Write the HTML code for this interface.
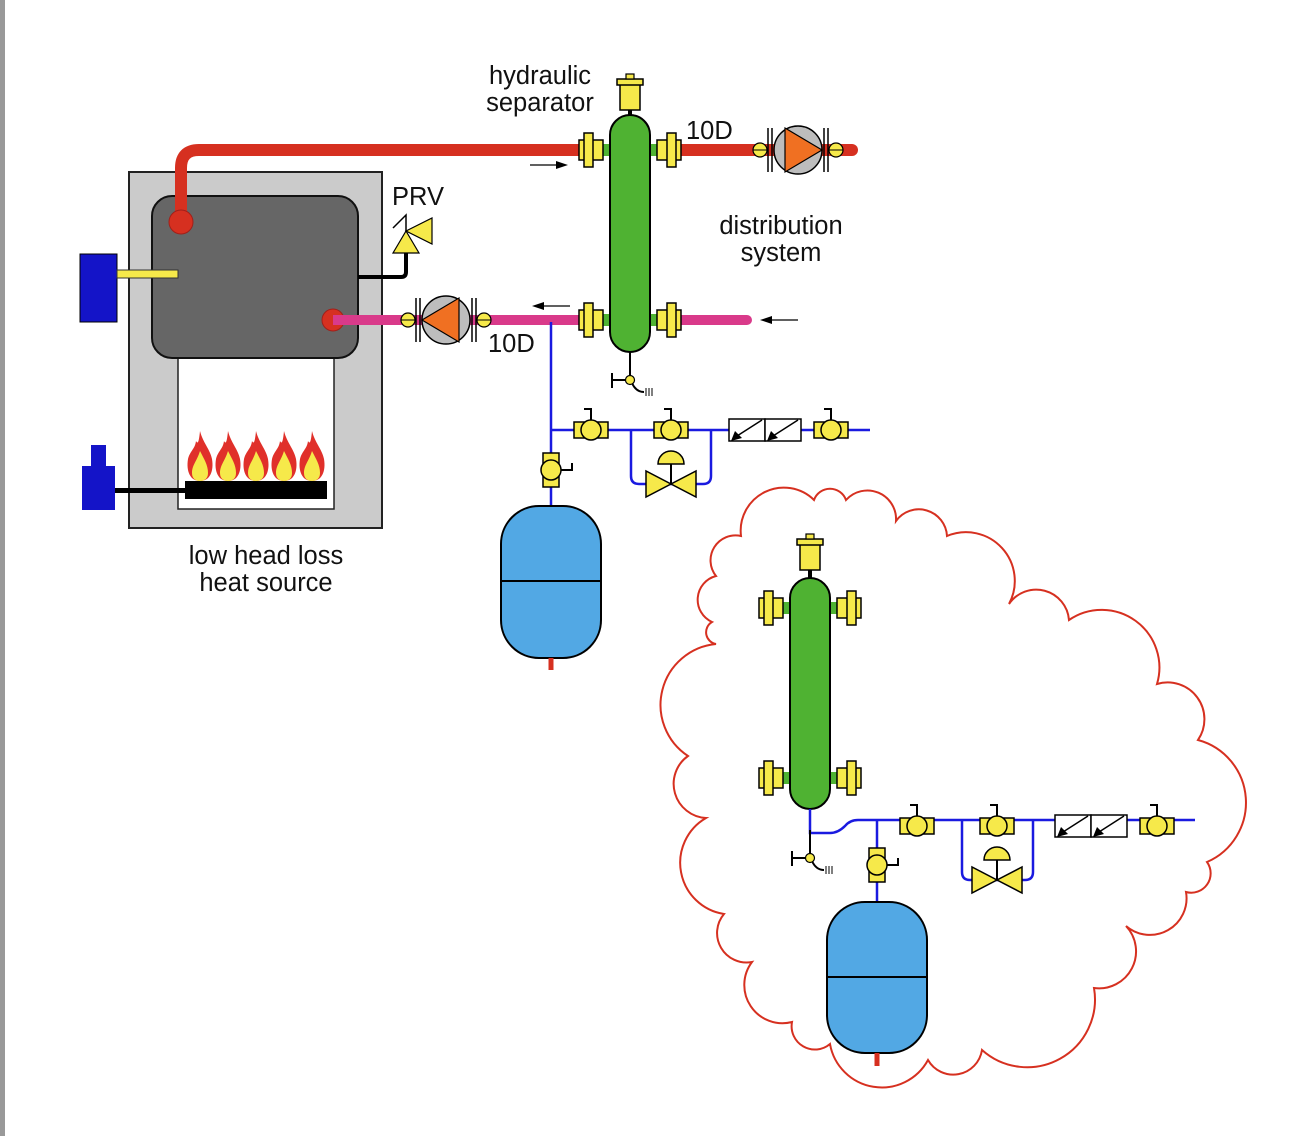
<!DOCTYPE html>
<html><head><meta charset="utf-8"><style>
html,body{margin:0;padding:0;background:#fff;}
svg{display:block;}
text{font-family:"Liberation Sans",sans-serif;font-size:25.5px;fill:#111;}
</style></head><body>
<svg id="s" width="1304" height="1136" viewBox="0 0 1304 1136" xmlns="http://www.w3.org/2000/svg">
<defs>
<g id="bv"><rect x="-17" y="-8" width="34" height="16" fill="#f6e94a" stroke="#000" stroke-width="1.5"/><circle r="10" fill="#f6e94a" stroke="#000" stroke-width="1.5"/><polyline points="-7,-21 0,-21 0,-10" fill="none" stroke="#000" stroke-width="2"/></g>
<g id="fl"><rect x="-12" y="-10" width="24" height="20" fill="#f6e94a" stroke="#000" stroke-width="1.5"/><rect x="-7" y="-17" width="9" height="34" fill="#f6e94a" stroke="#000" stroke-width="1.5"/></g>
<g id="cv"><polygon points="-25,-13 -25,13 0,0" fill="#f6e94a" stroke="#000" stroke-width="1.5"/><polygon points="25,-13 25,13 0,0" fill="#f6e94a" stroke="#000" stroke-width="1.5"/><line x1="0" y1="0" x2="0" y2="-20" stroke="#000" stroke-width="2"/><path d="M-13,-20 A13,13 0 0 1 13,-20 Z" fill="#f6e94a" stroke="#000" stroke-width="1.5"/></g>
<g id="bf"><rect x="0" y="-11" width="36" height="22" fill="#fff" stroke="#000" stroke-width="1.5"/><rect x="36" y="-11" width="36" height="22" fill="#fff" stroke="#000" stroke-width="1.5"/><line x1="33" y1="-10" x2="8" y2="6" stroke="#000" stroke-width="1.5"/><polygon points="2,11 6,1 13,8" fill="#000"/><line x1="69" y1="-10" x2="44" y2="6" stroke="#000" stroke-width="1.5"/><polygon points="38,11 42,1 49,8" fill="#000"/></g>
<g id="pu"><line x1="-30" y1="-22" x2="-30" y2="22" stroke="#000" stroke-width="1.5"/><line x1="-26" y1="-22" x2="-26" y2="22" stroke="#000" stroke-width="1.5"/><line x1="26" y1="-22" x2="26" y2="22" stroke="#000" stroke-width="1.5"/><line x1="30" y1="-22" x2="30" y2="22" stroke="#000" stroke-width="1.5"/><circle r="24" fill="#bdbdbd" stroke="#000" stroke-width="1.5"/><polygon points="-13,-22 -13,22 24,0" fill="#f07022" stroke="#000" stroke-width="1.2"/><circle cx="-38" r="7" fill="#f6e94a" stroke="#000" stroke-width="1.2"/><line x1="-45" x2="-31" y1="0" y2="0" stroke="#000"/><circle cx="38" r="7" fill="#f6e94a" stroke="#000" stroke-width="1.2"/><line x1="31" x2="45" y1="0" y2="0" stroke="#000"/></g>
<g id="fm"><path d="M0,-50 C3,-38 10,-32 12,-22 C14,-10 10,0 0,0 C-10,0 -14,-10 -12,-22 C-10,-30 -5,-32 -4,-40 C-2,-36 -1,-40 0,-50Z" fill="#e0302a"/><path d="M0,-30 C4,-22 8,-16 8,-8 C8,-2 4,0 0,0 C-4,0 -8,-2 -8,-8 C-8,-16 -3,-20 0,-30Z" fill="#f6e94a"/></g>
<g id="dr"><line x1="0" y1="0" x2="0" y2="28" stroke="#000" stroke-width="2"/><line x1="-18" y1="28" x2="-4" y2="28" stroke="#000" stroke-width="2"/><line x1="-18" y1="21" x2="-18" y2="36" stroke="#000" stroke-width="2"/><path d="M2,31 Q6,40 14,40" fill="none" stroke="#000" stroke-width="2"/><circle cx="0" cy="28" r="4.5" fill="#f6e94a" stroke="#000" stroke-width="1.2"/><path d="M16,36v8M19,36v8M22,36v8" stroke="#000" stroke-width="1"/></g>
<g id="av"><rect x="-10" y="-26" width="20" height="26" fill="#f6e94a" stroke="#000" stroke-width="1.5"/><rect x="-13" y="-31" width="26" height="6" fill="#f6e94a" stroke="#000" stroke-width="1.5"/><rect x="-4" y="-36" width="8" height="5" fill="#f6e94a" stroke="#000" stroke-width="1.2"/></g>
</defs>
<rect x="0" y="0" width="5" height="1136" fill="#999"/>

<!-- boiler -->
<rect x="129" y="172" width="253" height="356" fill="#cbcbcb" stroke="#222" stroke-width="2"/>
<rect x="178" y="350" width="156" height="159" fill="#fff" stroke="#222" stroke-width="1.5"/>
<rect x="152" y="196" width="206" height="162" rx="20" fill="#666" stroke="#111" stroke-width="2"/>
<rect x="80" y="254" width="37" height="68" fill="#1414c8" stroke="#000" stroke-width="1"/>
<rect x="117" y="270" width="61" height="8" fill="#f6e94a" stroke="#333" stroke-width="1"/>
<rect x="91" y="445" width="15" height="22" fill="#1414c8"/>
<rect x="82" y="466" width="33" height="44" fill="#1414c8"/>
<rect x="115" y="488" width="72" height="5" fill="#000"/>
<use href="#fm" x="200" y="481"/><use href="#fm" x="228" y="481"/><use href="#fm" x="256" y="481"/><use href="#fm" x="284" y="481"/><use href="#fm" x="312" y="481"/>
<rect x="185" y="481" width="142" height="18" fill="#000"/>
<!-- PRV -->
<path d="M358,277 H401 Q406,277 406,272 V252" fill="none" stroke="#000" stroke-width="4"/>
<polygon points="393,253 419,253 406,231" fill="#f6e94a" stroke="#000" stroke-width="1.2"/>
<polygon points="406,231 432,218 432,244" fill="#f6e94a" stroke="#000" stroke-width="1.2"/>
<polyline points="393,228 406,215 406,231" fill="none" stroke="#000" stroke-width="1.5"/>
<!-- supply pipe -->
<path d="M181,222 V168 Q181,150 199,150 H600" fill="none" stroke="#d63020" stroke-width="12"/>
<circle cx="181" cy="222" r="12" fill="#d63020" stroke="#a0201a"/>
<path d="M650,150 H852" fill="none" stroke="#d63020" stroke-width="12" stroke-linecap="round"/>
<!-- return -->
<path d="M333,320 H600" stroke="#d93a8a" stroke-width="10"/>
<path d="M650,320 H747" stroke="#d93a8a" stroke-width="10" stroke-linecap="round"/>
<circle cx="333" cy="320" r="11" fill="#d63020" stroke="#a0201a"/>
<rect x="333" y="315" width="30" height="10" fill="#d93a8a"/>
<g transform="translate(446,320) scale(-1,1)"><use href="#pu"/></g>
<use href="#pu" x="798" y="150"/>
<!-- blue -->
<path d="M551,322 V506 M551,430 H870 M631,430 V476 Q631,484 639,484 H703 Q711,484 711,476 V430" fill="none" stroke="#1a1ae0" stroke-width="2.5"/>
<use href="#bv" x="591" y="430"/><use href="#bv" x="671" y="430"/><use href="#bv" x="831" y="430"/>
<use href="#cv" x="671" y="484"/><use href="#bf" x="729" y="430"/>
<g transform="translate(551,470) rotate(90)"><use href="#bv"/></g>
<rect x="501" y="506" width="100" height="152" rx="38" fill="#52a8e4" stroke="#000" stroke-width="2"/>
<line x1="501" y1="581" x2="601" y2="581" stroke="#000" stroke-width="2"/>
<line x1="551" y1="658" x2="551" y2="670" stroke="#d63020" stroke-width="5"/>
<!-- separator -->
<line x1="630" y1="100" x2="630" y2="120" stroke="#000" stroke-width="4"/>
<use href="#av" x="630" y="110"/>
<rect x="598" y="144" width="66" height="12" fill="#4fb232"/><rect x="598" y="314" width="66" height="12" fill="#4fb232"/>
<rect x="610" y="115" width="40" height="237" rx="20" fill="#4fb232" stroke="#000" stroke-width="2"/>
<use href="#fl" x="591" y="150"/><use href="#fl" x="591" y="320"/>
<g transform="translate(669,150) scale(-1,1)"><use href="#fl"/></g><g transform="translate(669,320) scale(-1,1)"><use href="#fl"/></g>
<use href="#dr" x="630" y="352"/>
<!-- arrows -->
<line x1="530" y1="165" x2="560" y2="165" stroke="#000" stroke-width="1.2"/><polygon points="568,165 556,161 556,169" fill="#000"/>
<line x1="540" y1="306" x2="570" y2="306" stroke="#000" stroke-width="1.2"/><polygon points="532,306 544,302 544,310" fill="#000"/>
<line x1="768" y1="320" x2="798" y2="320" stroke="#000" stroke-width="1.2"/><polygon points="760,320 772,316 772,324" fill="#000"/>
<!-- text -->
<text x="540" y="84" text-anchor="middle">hydraulic</text>
<text x="540" y="111" text-anchor="middle">separator</text>
<text x="686" y="139">10D</text>
<text x="488" y="352">10D</text>
<text x="392" y="205">PRV</text>
<text x="781" y="234" text-anchor="middle">distribution</text>
<text x="781" y="261" text-anchor="middle">system</text>
<text x="266" y="564" text-anchor="middle">low head loss</text>
<text x="266" y="591" text-anchor="middle">heat source</text>

<!-- cloud -->
<path id="cloud" d="" fill="none" stroke="#d63020" stroke-width="2"/>
<!-- cloud internals -->
<line x1="810" y1="560" x2="810" y2="580" stroke="#000" stroke-width="4"/>
<use href="#av" x="810" y="570"/>
<rect x="778" y="602" width="64" height="12" fill="#4fb232"/><rect x="778" y="772" width="64" height="12" fill="#4fb232"/>
<rect x="790" y="578" width="40" height="231" rx="20" fill="#4fb232" stroke="#000" stroke-width="2"/>
<use href="#fl" x="771" y="608"/><use href="#fl" x="771" y="778"/>
<g transform="translate(849,608) scale(-1,1)"><use href="#fl"/></g><g transform="translate(849,778) scale(-1,1)"><use href="#fl"/></g>
<path d="M810,809 V833 H830 Q838,833 845,826 Q850,820 858,820 H1195 M877,820 V902 M962,820 V872 Q962,880 970,880 H1025 Q1033,880 1033,872 V820" fill="none" stroke="#1a1ae0" stroke-width="2.5"/>
<use href="#dr" x="810" y="830"/>
<use href="#bv" x="917" y="826"/><use href="#bv" x="997" y="826"/><use href="#bv" x="1157" y="826"/>
<use href="#cv" x="997" y="880"/><use href="#bf" x="1055" y="826"/>
<g transform="translate(877,865) rotate(90)"><use href="#bv"/></g>
<rect x="827" y="902" width="100" height="151" rx="38" fill="#52a8e4" stroke="#000" stroke-width="2"/>
<line x1="827" y1="977" x2="927" y2="977" stroke="#000" stroke-width="2"/>
<line x1="877" y1="1053" x2="877" y2="1066" stroke="#d63020" stroke-width="5"/>
</svg>
<script>
var p=[[741,536],[814,500],[846,500],[896,521],[947,536],[1009,604],[1069,620],[1157,684],[1198,740],[1207,862],[1186,892],[1126,926],[1094,988],[982,1050],[928,1060],[830,1044],[792,1022],[752,962],[724,914],[706,818],[688,756],[716,644],[712,622],[716,576]];
var d="M"+p[0].join(",");
for(var i=1;i<=p.length;i++){var a=p[i-1],b=p[i%p.length];var c=Math.hypot(b[0]-a[0],b[1]-a[1]);var r=(c*0.53).toFixed(1);d+=" A"+r+","+r+" 0 0 1 "+b.join(",");}
document.getElementById("cloud").setAttribute("d",d+"Z");
</script>
</body></html>
